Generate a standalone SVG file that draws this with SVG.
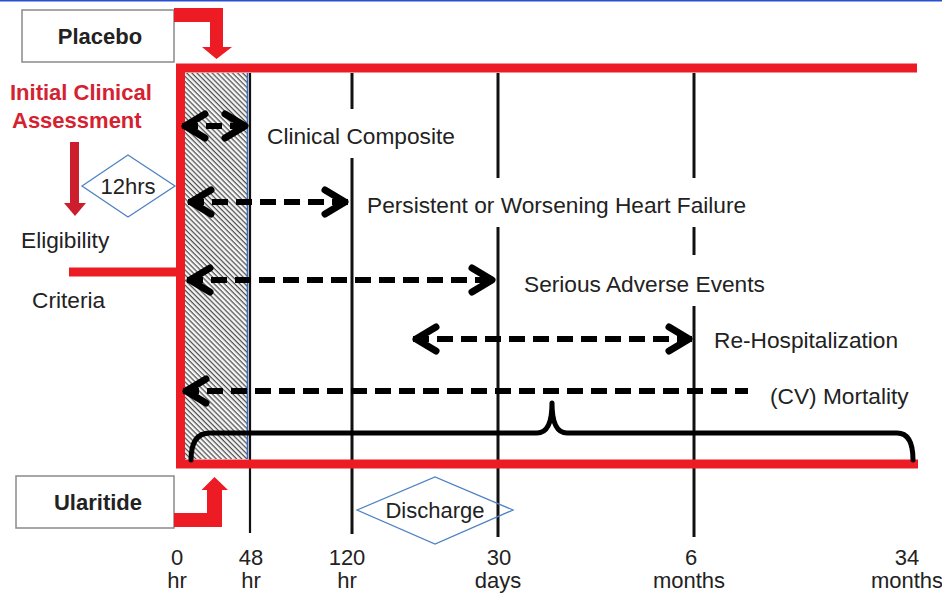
<svg xmlns="http://www.w3.org/2000/svg" width="942" height="594" viewBox="0 0 942 594">
<style>
text{font-family:"Liberation Sans",Arial,sans-serif;fill:#222;}
.lbl{font-size:22.7px;}
.ax{font-size:22px;text-anchor:middle;}
.bold{font-weight:bold;}
.box{fill:#fff;stroke:#8a8a8a;stroke-width:1.5;}
.red{fill:#ed1c24;}
.redline{fill:none;stroke:#ed1c24;stroke-width:9;}
.tl{stroke:#111;stroke-width:3;fill:none;}
.dash{stroke:#000;stroke-width:6;fill:none;stroke-dasharray:16 8;marker-end:url(#head);marker-start:url(#head);}
.diamond{fill:#fff;stroke:#4f82c4;stroke-width:1.3;}
</style>
<defs>
<pattern id="hatch" patternUnits="userSpaceOnUse" width="3.6" height="3.6" patternTransform="rotate(-45)">
<rect width="3.6" height="3.6" fill="#fafafa"/>
<line x1="1.2" y1="0" x2="1.2" y2="3.6" stroke="#505050" stroke-width="1.3"/>
</pattern>
<marker id="head" markerUnits="userSpaceOnUse" markerWidth="40" markerHeight="40" viewBox="-30 -20 40 40" refX="0" refY="0" orient="auto-start-reverse" overflow="visible">
<path d="M-23,-12 L-3,0 L-23,12" fill="none" stroke="#000" stroke-width="7" stroke-linecap="round" stroke-linejoin="round" stroke-dasharray="none"/>
</marker>
</defs>
<rect width="942" height="594" fill="#fff"/>
<line x1="0" y1="0.8" x2="942" y2="0.8" stroke="#2a4fd0" stroke-width="1.6"/>

<g id="hatched-window">
<rect x="185" y="73" width="63" height="386" fill="url(#hatch)"/>
<line x1="247.5" y1="73" x2="247.5" y2="459" stroke="#3a6db5" stroke-width="1.6"/>
</g>

<g id="timeline-lines">
<line class="tl" x1="250" y1="73" x2="250" y2="533" style="stroke-width:2.2"/>
<line class="tl" x1="352" y1="73" x2="352" y2="109"/>
<line class="tl" x1="352" y1="158" x2="352" y2="534"/>
<line class="tl" x1="498" y1="73" x2="498" y2="178"/>
<line class="tl" x1="498" y1="227" x2="498" y2="537"/>
<line class="tl" x1="694" y1="73" x2="694" y2="178"/>
<line class="tl" x1="694" y1="227" x2="694" y2="255"/>
<line class="tl" x1="694" y1="306" x2="694" y2="537"/>
</g>

<g id="frame">
<path class="redline" d="M917,68 L180.5,68 L180.5,464 L918,464" stroke-linejoin="miter"/>
<line class="redline" x1="69" y1="272" x2="180" y2="272"/>
</g>

<g id="placebo">
<rect class="box" x="22" y="10" width="152" height="52"/>
<text class="bold" x="100" y="44" font-size="22" text-anchor="middle">Placebo</text>
<polygon class="red" points="174,8 223,8 223,47 232,47 216.5,59 202,47 210,47 210,22 174,22"/>
</g>

<g id="ularitide">
<rect class="box" x="16" y="476" width="158" height="52"/>
<text class="bold" x="98" y="510" font-size="22" text-anchor="middle">Ularitide</text>
<polygon class="red" points="174,527 222,527 222,490 228,490 214.5,477 201.5,490 207,490 207,513 174,513"/>
</g>

<g id="initial-assessment">
<text class="bold" x="10" y="100" font-size="22" style="fill:#d42231">Initial Clinical</text>
<text class="bold" x="12" y="128" font-size="22" style="fill:#d42231">Assessment</text>
<rect x="70" y="142" width="9" height="62" fill="#cc1e2c"/>
<polygon points="64,203 86,203 75,216" fill="#cc1e2c"/>
</g>

<g id="twelve-hrs">
<polygon class="diamond" points="82,186 128,155 175,186 128,217"/>
<text x="128" y="194" font-size="22" text-anchor="middle">12hrs</text>
</g>

<g id="eligibility">
<text class="lbl" x="21" y="248">Eligibility</text>
<text class="lbl" x="32" y="308">Criteria</text>
</g>

<g id="connectors">
<path class="dash" d="M182,126 L248,126"/>
<path class="dash" d="M188,202 L348,202"/>
<path class="dash" d="M187,280 L495,280"/>
<path class="dash" d="M413,339 L692,339"/>
<path class="dash" d="M183,391 L748,391" style="marker-end:none"/>
<path d="M191,460 Q191,433 210,433 L537,433 Q552,433 552,403 Q552,433 567,433 L897,433 Q913,433 913,460" fill="none" stroke="#000" stroke-width="5" stroke-linecap="round" stroke-linejoin="round"/>
</g>

<g id="endpoint-labels">
<text class="lbl" x="267" y="144">Clinical Composite</text>
<text class="lbl" x="367" y="213">Persistent or Worsening Heart Failure</text>
<text class="lbl" x="524" y="292">Serious Adverse Events</text>
<text class="lbl" x="714" y="348">Re-Hospitalization</text>
<text class="lbl" x="770" y="404">(CV) Mortality</text>
</g>

<g id="discharge">
<polygon class="diamond" points="357,510 435,477 513,510 435,544" style="fill:none"/>
<text x="435" y="518" font-size="22" text-anchor="middle">Discharge</text>
</g>

<g id="axis-labels">
<text class="ax" x="177" y="565">0</text><text class="ax" x="177" y="588">hr</text>
<text class="ax" x="251" y="565">48</text><text class="ax" x="251" y="588">hr</text>
<text class="ax" x="347" y="565">120</text><text class="ax" x="347" y="588">hr</text>
<text class="ax" x="499" y="565">30</text><text class="ax" x="498" y="588">days</text>
<text class="ax" x="691" y="565">6</text><text class="ax" x="689" y="588">months</text>
<text class="ax" x="907" y="565">34</text><text class="ax" x="907" y="588">months</text>
</g>
</svg>
